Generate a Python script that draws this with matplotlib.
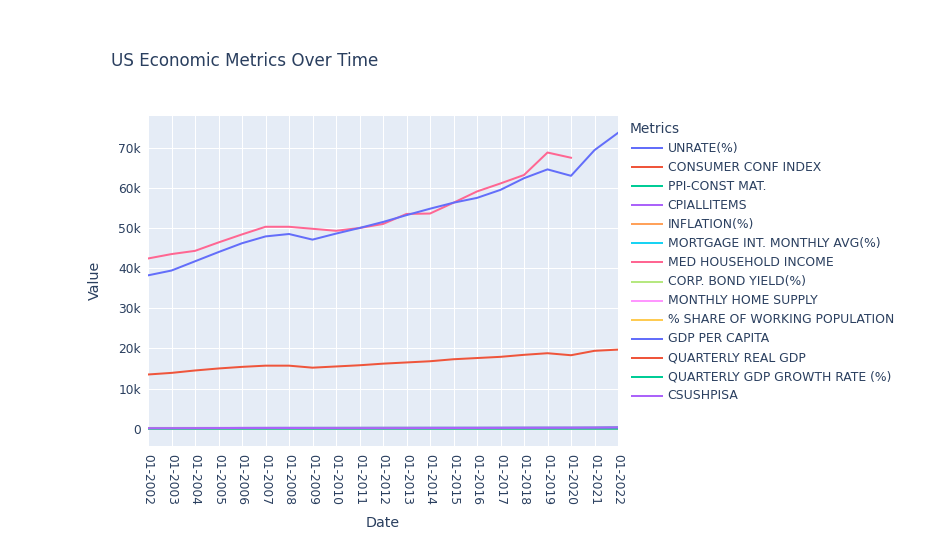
import numpy as np
import matplotlib.pyplot as plt
from matplotlib.lines import Line2D
from matplotlib.ticker import FuncFormatter

# January of each year, shown as categories
dates = ["01-%d" % yr for yr in range(2002, 2023)]

unrate = [5.7, 5.8, 5.7, 5.3, 4.7, 4.6, 5.0, 7.8, 9.8, 9.1, 8.3, 8.0, 6.6, 5.7, 4.8, 4.7, 4.0, 4.0, 3.5, 6.4, 4.0]
consumer_conf = [99.5, 98.6, 100.4, 100.6, 100.3, 100.9, 98.4, 96.6, 98.0, 98.4, 98.5, 98.9, 99.7, 100.6, 100.5, 101.0, 101.2, 100.8, 101.0, 98.8, 98.3]
ppi_const = [142.5, 143.8, 148.9, 163.8, 175.2, 183.2, 190.1, 197.0, 195.4, 201.7, 207.2, 210.0, 214.0, 217.4, 214.6, 220.9, 230.2, 235.6, 237.8, 256.5, 328.9]
cpi_all = [177.1, 181.7, 185.2, 190.7, 198.3, 202.4, 211.1, 211.1, 216.7, 220.2, 226.7, 230.3, 233.9, 233.7, 236.9, 242.8, 247.9, 252.6, 258.7, 262.2, 281.1]
inflation = [1.1, 2.6, 1.9, 3.0, 4.0, 2.1, 4.3, 0.0, 2.6, 1.6, 2.9, 1.6, 1.6, -0.1, 1.4, 2.5, 2.1, 1.6, 2.5, 1.4, 7.5]
mortgage = [7.0, 5.9, 5.7, 5.7, 6.2, 6.2, 5.8, 5.1, 5.0, 4.8, 3.9, 3.4, 4.5, 3.7, 3.9, 4.2, 4.0, 4.5, 3.6, 2.7, 3.4]
med_income = [42400, 43500, 44300, 46400, 48400, 50300, 50300, 49800, 49300, 50000, 51000, 53500, 53600, 56300, 59100, 61100, 63200, 68800, 67500, np.nan, np.nan]
corp_bond = [6.55, 6.17, 5.54, 5.36, 5.29, 5.40, 5.33, 5.05, 5.26, 5.04, 3.85, 3.80, 4.49, 3.46, 4.00, 3.92, 3.55, 3.93, 3.00, 2.45, 2.93]
home_supply = [4.2, 4.0, 3.9, 4.3, 5.4, 6.9, 10.0, 12.2, 8.7, 8.2, 6.0, 4.1, 5.1, 5.4, 5.4, 5.4, 5.6, 6.8, 5.0, 4.2, 5.6]
working_pop = [67.0, 66.9, 66.8, 66.9, 67.1, 67.2, 67.1, 67.1, 67.0, 66.9, 66.8, 66.6, 66.4, 66.2, 65.9, 65.7, 65.5, 65.2, 65.0, 64.9, 64.8]
gdp_per_capita = [38200, 39400, 41700, 44000, 46200, 47900, 48500, 47100, 48600, 50000, 51500, 53200, 54800, 56300, 57500, 59500, 62400, 64600, 63000, 69400, 73700]
real_gdp = [13500, 13900, 14500, 15000, 15400, 15700, 15700, 15200, 15500, 15800, 16200, 16500, 16800, 17300, 17600, 17900, 18400, 18800, 18300, 19400, 19700]
gdp_growth = [0.9, 0.5, 0.6, 1.1, 1.3, 0.1, -0.4, -1.1, 0.4, -0.2, 0.8, 0.9, -0.3, 0.8, 0.6, 0.5, 0.8, 0.6, -1.4, 1.3, -0.5]
csushpisa = [117.1, 128.5, 141.6, 158.7, 179.4, 183.7, 175.3, 154.1, 145.9, 140.6, 135.5, 143.5, 159.8, 167.8, 176.9, 186.8, 198.4, 207.9, 213.5, 240.5, 286.9]

metric_names = ["UNRATE(%)", "CONSUMER CONF INDEX", "PPI-CONST MAT.", "CPIALLITEMS",
                "INFLATION(%)", "MORTGAGE INT. MONTHLY AVG(%)", "MED HOUSEHOLD INCOME",
                "CORP. BOND YIELD(%)", "MONTHLY HOME SUPPLY", "% SHARE OF WORKING POPULATION",
                "GDP PER CAPITA", "QUARTERLY REAL GDP", "QUARTERLY GDP GROWTH RATE (%)", "CSUSHPISA"]
metric_values = [unrate, consumer_conf, ppi_const, cpi_all, inflation, mortgage, med_income,
                 corp_bond, home_supply, working_pop, gdp_per_capita, real_gdp, gdp_growth, csushpisa]

# plotly default colour cycle
palette = ["#636EFA", "#EF553B", "#00CC96", "#AB63FA", "#FFA15A", "#19D3F3",
           "#FF6692", "#B6E880", "#FF97FF", "#FECB52"]
text_color = "#2a3f5f"
W, H = 948, 557
px = 72 / 100  # points per pixel at dpi 100

plt.rcParams['font.family'] = ['DejaVu Sans']

fig = plt.figure(figsize=(W / 100, H / 100), dpi=100)
ax = fig.add_axes([148 / W, 1 - 445.7 / H, 470 / W, 329.7 / H])
ax.set_facecolor("#E5ECF6")

x = np.arange(len(dates))
for i, (name, vals) in enumerate(zip(metric_names, metric_values)):
    ax.plot(x, vals, color=palette[i % len(palette)], lw=2 * px, label=name,
            solid_joinstyle='round', zorder=3)

ax.set_xlim(0, len(dates) - 1)
ax.set_ylim(-4240, 77900)
ax.set_xticks(x)
ax.set_xticklabels(dates, rotation=-90, va='top', ha='center')
ax.set_yticks(np.arange(0, 80000, 10000))
ax.yaxis.set_major_formatter(FuncFormatter(lambda v, p: "0" if v == 0 else "%dk" % (v / 1000)))
ax.tick_params(length=0, labelsize=12.3 * px, labelcolor=text_color)
ax.tick_params(axis='y', pad=5)
ax.tick_params(axis='x', pad=6)
ax.grid(True, color="white", lw=1 * px, zorder=1)
ax.axhline(0, color="white", lw=2 * px, zorder=2)
for s in ax.spines.values():
    s.set_visible(False)

ax.set_xlabel("Date", fontsize=14.3 * px, color=text_color, va='center')
ax.xaxis.set_label_coords(0.5, (445.7 - 523) / 329.7)
ax.set_ylabel("Value", fontsize=14.3 * px, color=text_color, va='center')
ax.yaxis.set_label_coords((95 - 148) / 470, 0.5)

fig.text(111 / W, 1 - 66 / H, "US Economic Metrics Over Time", fontsize=16.8 * px,
         color=text_color, va='baseline', ha='left')

# legend, laid out like plotly's
fig.text(630 / W, 1 - 133 / H, "Metrics", fontsize=13.8 * px, color=text_color,
         va='baseline', ha='left')
for i, name in enumerate(metric_names):
    yy = 1 - (148.3 + i * 19.03) / H
    fig.add_artist(Line2D([632 / W, 662 / W], [yy, yy], transform=fig.transFigure,
                          color=palette[i % len(palette)], lw=2 * px))
    fig.text(667.7 / W, yy, name, fontsize=12.4 * px, color=text_color, va='center', ha='left')

fig.savefig("out.png", dpi=100)
